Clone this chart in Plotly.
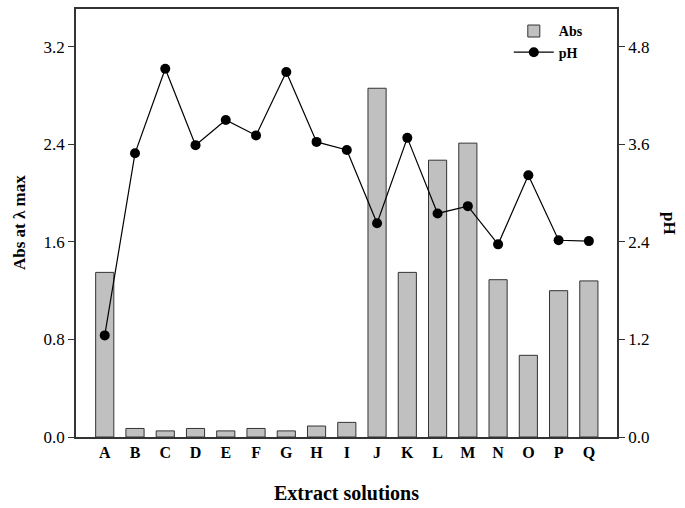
import plotly.graph_objects as go

categories = ["A", "B", "C", "D", "E", "F", "G", "H", "I", "J", "K", "L", "M", "N", "O", "P", "Q"]
abs_values = [1.35, 0.07, 0.05, 0.07, 0.05, 0.07, 0.05, 0.09, 0.12, 2.86, 1.35, 2.27, 2.41, 1.29, 0.67, 1.20, 1.28]
ph_values = [1.25, 3.49, 4.53, 3.59, 3.90, 3.71, 4.49, 3.63, 3.53, 2.63, 3.68, 2.75, 2.84, 2.37, 3.22, 2.42, 2.41]
abs_ticks = [0.0, 0.8, 1.6, 2.4, 3.2]
ph_ticks = [0.0, 1.2, 2.4, 3.6, 4.8]

FONT = "Liberation Serif, Times New Roman, serif"
AXC = "#333333"

fig = go.Figure()
fig.add_trace(go.Bar(
    x=categories, y=abs_values, name="<b>Abs</b>",
    marker=dict(color="#c0c0c0", line=dict(color="#333333", width=1)),
    width=0.6, yaxis="y",
))
fig.add_trace(go.Scatter(
    x=categories, y=ph_values, name="<b>pH</b>", mode="lines+markers",
    line=dict(color="black", width=1.2),
    marker=dict(color="black", size=10),
    yaxis="y2",
))

fig.update_layout(
    width=685, height=508,
    margin=dict(l=76, r=68, t=7, b=69),
    paper_bgcolor="white", plot_bgcolor="white",
    font=dict(family=FONT, size=14, color="black"),
    showlegend=True,
    legend=dict(x=0.80, y=0.985, xanchor="left", yanchor="top",
                bgcolor="rgba(0,0,0,0)", font=dict(size=14, family=FONT),
                itemwidth=40, tracegroupgap=0),
    bargap=0.4,
    xaxis=dict(
        type="category", range=[-0.95, 16.93],
        showline=True, linecolor=AXC, linewidth=1.5, mirror=True,
        ticks="", showgrid=False, zeroline=False,
        tickfont=dict(family=FONT, size=16, color="black"),
        tickprefix="<b>", ticksuffix="</b>",
        title=dict(text="<b>Extract solutions</b>", font=dict(size=20, family=FONT), standoff=26),
    ),
    yaxis=dict(
        range=[0, 3.51], tickvals=abs_ticks, tickformat=".1f",
        showline=True, linecolor=AXC, linewidth=1.5,
        ticks="outside", ticklen=6, tickcolor=AXC, tickwidth=1.2,
        showgrid=False, zeroline=False,
        tickfont=dict(family=FONT, size=17, color="black"),
        tickprefix="<b>", ticksuffix="</b>",
    ),
    yaxis2=dict(
        range=[0, 5.265], tickvals=ph_ticks, tickformat=".1f",
        overlaying="y", side="right",
        showline=True, linecolor=AXC, linewidth=1.5,
        ticks="outside", ticklen=6, tickcolor=AXC, tickwidth=1.2,
        showgrid=False, zeroline=False,
        tickfont=dict(family=FONT, size=17, color="black"),
        tickprefix="<b>", ticksuffix="</b>",
    ),
    annotations=[
        dict(text="<b>Abs at λ max</b>", xref="paper", yref="paper",
             x=0, y=0.5, xshift=-57, textangle=-90, showarrow=False,
             font=dict(size=17, family=FONT), xanchor="center", yanchor="middle"),
        dict(text="<b>pH</b>", xref="paper", yref="paper",
             x=1, y=0.5, xshift=53, textangle=90, showarrow=False,
             font=dict(size=17, family=FONT), xanchor="center", yanchor="middle"),
    ],
)

fig.write_html("out.html", config={"displayModeBar": False},
               post_script="document.body.style.margin='0';document.body.style.padding='0';")
